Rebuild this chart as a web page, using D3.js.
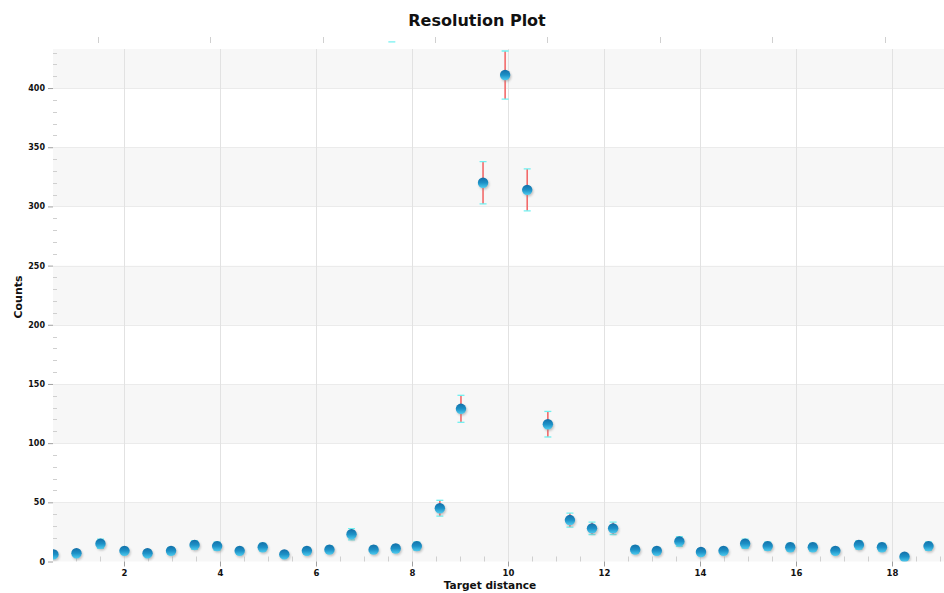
<!DOCTYPE html>
<html>
<head>
<meta charset="utf-8">
<script src="https://cdn.jsdelivr.net/npm/d3@7/dist/d3.min.js"></script>
<style>
html,body{margin:0;padding:0;background:#fff;}
svg{display:block;}
text{font-family:"DejaVu Sans",Verdana,sans-serif;font-weight:bold;fill:#111;}
</style>
</head>
<body>
<script>
// ---- data ----
const targetDistance = [0.53, 1.01, 1.51, 2.01, 2.49, 2.98, 3.47, 3.94, 4.41, 4.89,
  5.34, 5.81, 6.28, 6.74, 7.20, 7.66, 8.10, 8.58, 9.02, 9.48,
  9.94, 10.40, 10.83, 11.29, 11.75, 12.19, 12.65, 13.10, 13.57, 14.02,
  14.49, 14.94, 15.41, 15.88, 16.35, 16.82, 17.31, 17.79, 18.26, 18.76];
const counts = [6, 7, 15, 9, 7, 9, 14, 13, 9, 12,
  6, 9, 10, 23, 10, 11, 13, 45, 129, 320,
  411, 314, 116, 35, 28, 28, 10, 9, 17, 8,
  9, 15, 13, 12, 12, 9, 14, 12, 4, 13];
const countErrors = [2.4, 2.6, 3.9, 3.0, 2.6, 3.0, 3.7, 3.6, 3.0, 3.5,
  2.4, 3.0, 3.2, 4.8, 3.2, 3.3, 3.6, 6.7, 11.4, 17.9,
  20.3, 17.7, 10.8, 5.9, 5.3, 5.3, 3.2, 3.0, 4.1, 2.8,
  3.0, 3.9, 3.6, 3.5, 3.5, 3.0, 3.7, 3.5, 2.0, 3.6];
const xTickValues = [2, 4, 6, 8, 10, 12, 14, 16, 18];
const yTickValues = [0, 50, 100, 150, 200, 250, 300, 350, 400];
const topTickValues = [1.45, 3.79, 6.14, 8.48, 10.81, 13.17, 15.51, 17.86];
const strayCap = [{x: 7.58, y: 439}];
const xDomain = [0.521, 19.083];
const yDomain = [0, 433];
const titleText = "Resolution Plot";
const xLabel = "Target distance";
const yLabel = "Counts";

// ---- layout ----
const W = 944, H = 593;
const m = {left: 53, right: 0, top: 49, bottom: 31.5};
const svg = d3.select("body").append("svg").attr("width", W).attr("height", H);

const x = d3.scaleLinear().domain(xDomain).range([m.left, W - m.right]);
const y = d3.scaleLinear().domain(yDomain).range([H - m.bottom, m.top]);

const defs = svg.append("defs");
const grad = defs.append("linearGradient").attr("id", "dotGrad")
  .attr("x1", 0).attr("y1", 0).attr("x2", 0).attr("y2", 1);
grad.append("stop").attr("offset", "0%").attr("stop-color", "#146fa8");
grad.append("stop").attr("offset", "50%").attr("stop-color", "#1c90c6");
grad.append("stop").attr("offset", "100%").attr("stop-color", "#4fcdf0");
const blur = defs.append("filter").attr("id", "shadow").attr("x", "-50%").attr("y", "-50%").attr("width", "200%").attr("height", "200%");
blur.append("feGaussianBlur").attr("stdDeviation", 1.2);
defs.append("clipPath").attr("id", "plotClip").append("rect")
  .attr("x", m.left).attr("y", m.top - 12).attr("width", W - m.left).attr("height", H - m.bottom - m.top + 12);

// background bands
const bandStarts = d3.range(0, yDomain[1], 100);
svg.append("g").selectAll("rect").data(bandStarts).join("rect")
  .attr("x", m.left).attr("width", W - m.right - m.left)
  .attr("y", d => y(Math.min(d + 50, yDomain[1])))
  .attr("height", d => y(d) - y(Math.min(d + 50, yDomain[1])))
  .attr("fill", "#f7f7f7");

// horizontal grid
svg.append("g").selectAll("line").data(yTickValues.filter(v => v > 0)).join("line")
  .attr("x1", m.left).attr("x2", W - m.right)
  .attr("y1", d => Math.round(y(d)) + 0.5).attr("y2", d => Math.round(y(d)) + 0.5)
  .attr("stroke", "#ebebeb").attr("stroke-width", 1);

// vertical grid
svg.append("g").selectAll("line").data(xTickValues).join("line")
  .attr("x1", d => Math.round(x(d)) + 0.5).attr("x2", d => Math.round(x(d)) + 0.5)
  .attr("y1", m.top).attr("y2", H - m.bottom)
  .attr("stroke", "#e2e2e2").attr("stroke-width", 1);

// y axis (major ticks outside, minor ticks inside)
const yAxis = d3.axisLeft(y).tickValues(yTickValues).tickSize(5).tickPadding(3);
const gy = svg.append("g").attr("transform", `translate(${m.left},0)`).call(yAxis);
gy.select(".domain").remove();
gy.selectAll(".tick line").attr("stroke", "#a0a0a0");
gy.selectAll(".tick text").attr("font-size", 8).attr("font-family", "DejaVu Sans").attr("font-weight", "bold").attr("fill", "#111");
const yMinor = d3.range(10, yDomain[1], 10).filter(v => v % 50 !== 0);
svg.append("g").selectAll("line").data(yMinor).join("line")
  .attr("x1", m.left).attr("x2", m.left + 4)
  .attr("y1", d => Math.round(y(d)) + 0.5).attr("y2", d => Math.round(y(d)) + 0.5)
  .attr("stroke", "#cfcfcf");

// x axis
const xAxis = d3.axisBottom(x).tickValues(xTickValues).tickSize(5).tickPadding(3).tickFormat(d3.format("d"));
const gx = svg.append("g").attr("transform", `translate(0,${H - m.bottom})`).call(xAxis);
gx.select(".domain").remove();
gx.selectAll(".tick line").attr("stroke", "#a0a0a0");
gx.selectAll(".tick text").attr("font-size", 8.5).attr("font-family", "DejaVu Sans").attr("font-weight", "bold").attr("fill", "#111");
const xMinor = d3.range(1, 19.01, 0.5).filter(v => v % 2 !== 0);
svg.append("g").selectAll("line").data(xMinor).join("line")
  .attr("x1", d => Math.round(x(d)) + 0.5).attr("x2", d => Math.round(x(d)) + 0.5)
  .attr("y1", H - m.bottom - 5).attr("y2", H - m.bottom)
  .attr("stroke", "#cfcfcf");

// top ticks
svg.append("g").selectAll("line").data(topTickValues).join("line")
  .attr("x1", d => Math.round(x(d)) + 0.5).attr("x2", d => Math.round(x(d)) + 0.5)
  .attr("y1", 37).attr("y2", 43)
  .attr("stroke", "#d0d0d0");
svg.append("g").selectAll("line").data(strayCap).join("line")
  .attr("x1", d => x(d.x) - 3.5).attr("x2", d => x(d.x) + 3.5)
  .attr("y1", d => y(d.y)).attr("y2", d => y(d.y))
  .attr("stroke", "#6ff0f0").attr("stroke-width", 1.2);

// data
const pts = targetDistance.map((t, i) => ({x: t, v: counts[i], e: countErrors[i]}));
const plot = svg.append("g").attr("clip-path", "url(#plotClip)");

// error bars
const eb = plot.append("g").selectAll("g").data(pts).join("g");
eb.append("line")
  .attr("x1", d => x(d.x)).attr("x2", d => x(d.x))
  .attr("y1", d => y(d.v + d.e)).attr("y2", d => y(d.v - d.e))
  .attr("stroke", "#f26a6a").attr("stroke-width", 1.6);
eb.append("line")
  .attr("x1", d => x(d.x) - 3.5).attr("x2", d => x(d.x) + 3.5)
  .attr("y1", d => y(d.v + d.e)).attr("y2", d => y(d.v + d.e))
  .attr("stroke", "#6ff0f0").attr("stroke-width", 1.3);
eb.append("line")
  .attr("x1", d => x(d.x) - 3.5).attr("x2", d => x(d.x) + 3.5)
  .attr("y1", d => y(d.v - d.e)).attr("y2", d => y(d.v - d.e))
  .attr("stroke", "#6ff0f0").attr("stroke-width", 1.3);

// shadows
plot.append("g").selectAll("circle").data(pts).join("circle")
  .attr("cx", d => x(d.x) + 1).attr("cy", d => y(d.v) + 1.5).attr("r", 5.2)
  .attr("fill", "#8a8a8a").attr("opacity", 0.5).attr("filter", "url(#shadow)");
// dots
plot.append("g").selectAll("circle").data(pts).join("circle")
  .attr("cx", d => x(d.x)).attr("cy", d => y(d.v)).attr("r", 5.2)
  .attr("fill", "url(#dotGrad)");

// titles
svg.append("text").attr("x", 477).attr("y", 26).attr("text-anchor", "middle")
  .attr("font-size", 16).text(titleText);
svg.append("text").attr("x", 490).attr("y", 589).attr("text-anchor", "middle")
  .attr("font-size", 10.6).text(xLabel);
svg.append("text").attr("transform", "translate(22,297) rotate(-90)").attr("text-anchor", "middle")
  .attr("font-size", 11).text(yLabel);
</script>
</body>
</html>
